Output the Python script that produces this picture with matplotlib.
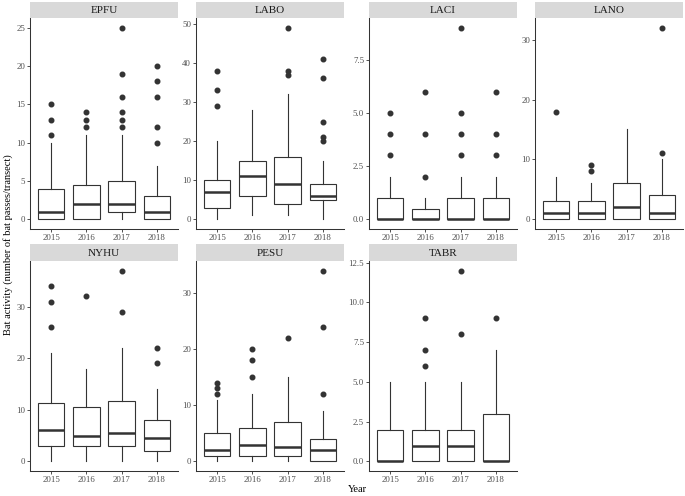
import matplotlib
matplotlib.use('Agg')
import matplotlib.pyplot as plt

plt.rcParams['font.family'] = ['Liberation Serif', 'DejaVu Serif']

years = ['2015', '2016', '2017', '2018']
species = ['EPFU', 'LABO', 'LACI', 'LANO', 'NYHU', 'PESU', 'TABR']

# per year: lower whisker, Q1, median, Q3, upper whisker
EPFU_box = [[0, 0, 1, 4, 10], [0, 0, 2, 4.5, 11], [0, 1, 2, 5, 11], [0, 0, 1, 3, 7]]
EPFU_out = [[11, 13, 15], [12, 13, 14], [12, 13, 14, 16, 19, 25], [10, 12, 16, 18, 20]]
LABO_box = [[0, 3, 7, 10, 20], [1, 6, 11, 15, 28], [1, 4, 9, 16, 32], [0, 5, 6, 9, 15]]
LABO_out = [[29, 33, 38], [], [37, 38, 49], [20, 21, 25, 36, 41]]
LACI_box = [[0, 0, 0, 1, 2], [0, 0, 0, 0.5, 1], [0, 0, 0, 1, 2], [0, 0, 0, 1, 2]]
LACI_out = [[3, 4, 5], [2, 4, 6], [3, 4, 5, 9], [3, 4, 6]]
LANO_box = [[0, 0, 1, 3, 7], [0, 0, 1, 3, 6], [0, 0, 2, 6, 15], [0, 0, 1, 4, 10]]
LANO_out = [[18], [8, 9], [], [11, 32]]
NYHU_box = [[0, 3, 6, 11.25, 21], [0, 3, 5, 10.5, 18], [0, 3, 5.5, 11.75, 22], [0, 2, 4.5, 8, 14]]
NYHU_out = [[26, 31, 34], [32], [29, 37], [19, 22]]
PESU_box = [[0, 1, 2, 5, 11], [0, 1, 3, 6, 12], [0, 1, 2.5, 7, 15], [0, 0, 2, 4, 9]]
PESU_out = [[12, 13, 14], [15, 18, 20], [22], [12, 24, 34]]
TABR_box = [[0, 0, 0, 2, 5], [0, 0, 1, 2, 5], [0, 0, 1, 2, 5], [0, 0, 0, 3, 7]]
TABR_out = [[], [6, 7, 9], [8, 12], [9]]

y_ticks = {
    'EPFU': [0, 5, 10, 15, 20, 25],
    'LABO': [0, 10, 20, 30, 40, 50],
    'LACI': [0, 2.5, 5.0, 7.5],
    'LANO': [0, 10, 20, 30],
    'NYHU': [0, 10, 20, 30],
    'PESU': [0, 10, 20, 30],
    'TABR': [0, 2.5, 5.0, 7.5, 10.0, 12.5],
}
boxes = {'EPFU': EPFU_box, 'LABO': LABO_box, 'LACI': LACI_box, 'LANO': LANO_box,
         'NYHU': NYHU_box, 'PESU': PESU_box, 'TABR': TABR_box}
outs = {'EPFU': EPFU_out, 'LABO': LABO_out, 'LACI': LACI_out, 'LANO': LANO_out,
        'NYHU': NYHU_out, 'PESU': PESU_out, 'TABR': TABR_out}

W, H = 685, 496
fig = plt.figure(figsize=(W / 100, H / 100), dpi=100)

col_left = [30, 196, 369, 535]
col_w = 148
rows = [(2, 18, 229), (244, 261, 471)]  # strip top, panel top, panel bottom (px)
dark = '#333333'

for i, sp in enumerate(species):
    r, c = divmod(i, 4)
    s_top, p_top, p_bot = rows[r]
    x0 = col_left[c] / W
    ax = fig.add_axes([x0, 1 - p_bot / H, col_w / W, (p_bot - p_top) / H])
    st = fig.add_axes([x0, 1 - p_top / H, col_w / W, (p_top - s_top) / H])
    st.set_facecolor('#D9D9D9')
    st.set_xticks([]); st.set_yticks([])
    for s in st.spines.values():
        s.set_visible(False)
    st.text(0.5, 0.45, sp, ha='center', va='center', fontsize=8, color='#1A1A1A',
            transform=st.transAxes)

    stats = []
    for b, o in zip(boxes[sp], outs[sp]):
        stats.append(dict(whislo=b[0], q1=b[1], med=b[2], q3=b[3], whishi=b[4], fliers=o))
    ax.bxp(stats, positions=[1, 2, 3, 4], widths=0.75, showcaps=False, patch_artist=True,
           boxprops=dict(facecolor='white', edgecolor=dark, linewidth=0.8),
           whiskerprops=dict(color=dark, linewidth=0.8),
           medianprops=dict(color=dark, linewidth=1.8, solid_capstyle='butt'),
           flierprops=dict(marker='o', markerfacecolor=dark, markeredgecolor=dark,
                           markersize=3.3))

    top = max(max(b[4] for b in boxes[sp]), max([max(o) for o in outs[sp] if o]))
    ax.set_ylim(-0.05 * top, 1.05 * top)
    ax.set_xlim(0.4, 4.6)
    ax.set_xticks([1, 2, 3, 4])
    ax.set_xticklabels(years)
    ax.set_yticks(y_ticks[sp])
    if sp in ('LACI', 'TABR'):
        ax.set_yticklabels(['%.1f' % v for v in y_ticks[sp]])
    for s in ('top', 'right'):
        ax.spines[s].set_visible(False)
    for s in ('left', 'bottom'):
        ax.spines[s].set_color(dark)
        ax.spines[s].set_linewidth(0.75)
    ax.tick_params(labelsize=6.3, length=2, width=0.6, color=dark, labelcolor='#4D4D4D', pad=1.5)

fig.text(8 / W, 1 - 244.5 / H, 'Bat activity (number of bat passes/transect)', rotation=90,
         ha='center', va='center', fontsize=7.5)
fig.text(357 / W, 1 - 489 / H, 'Year', ha='center', va='center', fontsize=7.5)

fig.savefig('out.png', dpi=100)
